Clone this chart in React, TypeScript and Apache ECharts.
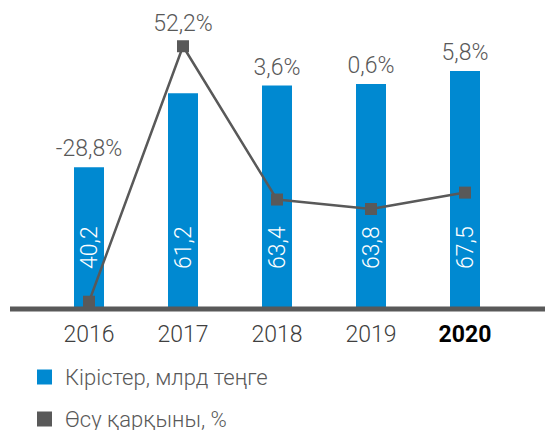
import React, { useEffect, useRef } from "react";
import * as echarts from "echarts";

const categories = ["2016", "2017", "2018", "2019", "2020"];
const revenue = [40.2, 61.2, 63.4, 63.8, 67.5];
const growth = [-28.8, 52.2, 3.6, 0.6, 5.8];
const legendNames = ["Кірістер, млрд теңге", "Өсу қарқыны, %"];
const highlightCategory = "2020";
const lineLabelIndex = 1;

const fmt = (v: number) => v.toFixed(1).replace(".", ",");
const FONT = "Roboto";
const GRAY = "#595959";
const BLUE = "#0089d1";
const FS = 23;

export default function App() {
  const ref = useRef<HTMLDivElement>(null);
  useEffect(() => {
    if (!ref.current) return;
    const chart = echarts.init(ref.current, null, { renderer: "svg" });
    chart.setOption({
      animation: false,
      textStyle: { fontFamily: FONT, fontWeight: 300 },
      grid: { left: 42, right: 33, top: 27, bottom: 121 },
      legend: {
        orient: "vertical",
        left: 37,
        top: 366,
        height: 70,
        padding: 0,
        itemWidth: 15,
        itemHeight: 15,
        itemGap: 20,
        icon: "rect",
        data: legendNames,
        textStyle: { fontSize: 22, color: GRAY, fontFamily: FONT, fontWeight: 300, padding: [0, 0, 0, 8] },
      },
      xAxis: {
        type: "category",
        data: categories,
        axisLine: { show: false },
        axisTick: { show: false },
        axisLabel: {
          interval: 0,
          margin: 14,
          fontSize: FS,
          color: "#404040",
          fontFamily: FONT,
          fontWeight: 300,
          formatter: (v: string) => (v === highlightCategory ? `{b|${v}}` : v),
          rich: { b: { fontWeight: "bold", color: "#000", fontSize: FS, fontFamily: FONT } },
        },
      },
      yAxis: [
        { type: "value", min: 0, max: 80, show: false, splitLine: { show: false } },
        { type: "value", min: -31.1, max: 58.3, show: false, splitLine: { show: false } },
      ],
      series: [
        {
          name: legendNames[0],
          type: "bar",
          data: revenue,
          barWidth: 30,
          itemStyle: { color: BLUE },
          z: 2,
          label: {
            show: true,
            position: "insideBottom",
            distance: 40,
            rotate: 90,
            align: "left",
            verticalAlign: "middle",
            color: "#fff",
            fontSize: FS,
            fontFamily: FONT,
            fontWeight: 300,
            formatter: (p: any) => fmt(p.value),
          },
        },
        {
          name: "growthLabels",
          type: "bar",
          barWidth: 30,
          barGap: "-100%",
          silent: true,
          z: 1,
          itemStyle: { color: "rgba(0,0,0,0)" },
          data: revenue.map((v, i) => ({
            value: v,
            label: { show: i !== lineLabelIndex },
          })),
          label: {
            position: "top",
            distance: 7,
            color: GRAY,
            fontSize: FS,
            fontFamily: FONT,
            fontWeight: 300,
            formatter: (p: any) => fmt(growth[p.dataIndex]) + "%",
          },
        },
        {
          name: legendNames[1],
          type: "line",
          yAxisIndex: 1,
          z: 5,
          symbol: "rect",
          symbolSize: 12,
          itemStyle: { color: GRAY },
          lineStyle: { color: GRAY, width: 2.5 },
          data: growth.map((v, i) => ({
            value: v,
            label: {
              show: i === lineLabelIndex,
              position: "top",
              distance: 5,
              color: GRAY,
              fontSize: FS,
              fontFamily: FONT,
              fontWeight: 300,
              formatter: (p: any) => fmt(p.value) + "%",
            },
          })),
        },
      ],
    });
    const y0 = chart.convertToPixel({ yAxisIndex: 0 }, 0) as number;
    chart.setOption({
      graphic: [
        {
          type: "rect",
          z: 3,
          shape: { x: 10, y: y0 - 2.5, width: 535, height: 5 },
          style: { fill: GRAY },
        },
      ],
    });
    return () => chart.dispose();
  }, []);
  return (
    <div
      ref={ref}
      style={{ position: "fixed", left: 0, top: 0, width: 545, height: 430, background: "#fff" }}
    />
  );
}
